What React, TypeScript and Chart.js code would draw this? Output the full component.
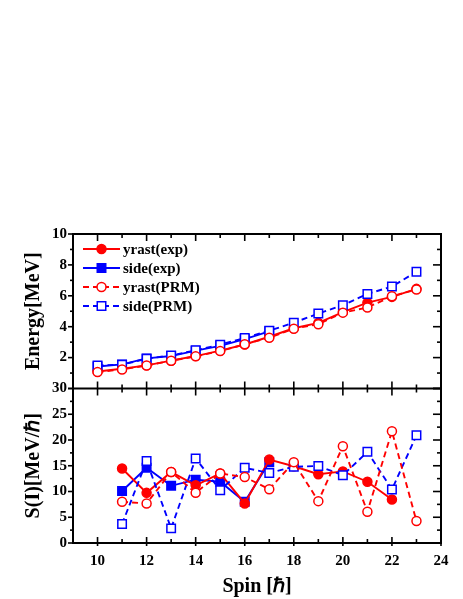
import React, { useEffect, useRef } from 'react';
import { Chart, registerables } from 'chart.js';

Chart.register(...registerables);

// ---------- data ----------
const spinsE = [10, 11, 12, 13, 14, 15, 16, 17, 18, 19, 20, 21, 22, 23];
const yrastExpE = [1.1, 1.28, 1.5, 1.8, 2.1, 2.45, 2.85, 3.35, 3.9, 4.25, 4.95, 5.56, 5.93, 6.45];
const sideExpSpins = [10, 11, 12, 13, 14, 15, 16, 17];
const sideExpE = [1.42, 1.56, 1.95, 2.1, 2.45, 2.76, 3.2, 3.7];
const yrastPrmE = [1.06, 1.23, 1.49, 1.8, 2.08, 2.42, 2.86, 3.29, 3.87, 4.16, 4.91, 5.24, 5.97, 6.41];
const sidePrmE = [1.49, 1.54, 1.93, 2.14, 2.47, 2.84, 3.27, 3.74, 4.26, 4.85, 5.39, 6.12, 6.6, 7.55];

const spinsS = [11, 12, 13, 14, 15, 16, 17, 18, 19, 20, 21, 22, 23];
const yrastExpSpinsS = [11, 12, 13, 14, 15, 16, 17, 18, 19, 20, 21, 22];
const yrastExpS = [14.46, 9.74, 13.8, 11.2, 13.5, 7.68, 16.2, 14.9, 13.35, 13.9, 11.9, 8.45];
const sideExpSpinsS = [11, 12, 13, 14, 15, 16, 17];
const sideExpS = [10.1, 14.6, 11.1, 12.3, 11.9, 8.0, 15.7];
const yrastPrmS = [8.0, 7.68, 13.8, 9.74, 13.5, 12.8, 10.45, 15.7, 8.13, 18.8, 6.06, 21.7, 4.26];
const sidePrmS = [3.68, 15.9, 2.84, 16.4, 10.26, 14.6, 13.6, 14.8, 14.96, 13.16, 17.7, 10.4, 20.9];

const xTicks = [10, 12, 14, 16, 18, 20, 22, 24];
const energyTicks = [0, 2, 4, 6, 8, 10];
const sTicks = [0, 5, 10, 15, 20, 25, 30];

const labels = ['yrast(exp)', 'side(exp)', 'yrast(PRM)', 'side(PRM)'];

// ---------- styles ----------
const RED = '#ff0000';
const BLUE = '#0000ff';
const FONT = "'Liberation Serif', 'Times New Roman', serif";
const DASH = [6, 4];

const zip = (xs: number[], ys: number[]) => ys.map((y, i) => ({ x: xs[i], y }));

function styleFor(idx: number) {
  const red = idx === 0 || idx === 2;
  const filled = idx < 2;
  const color = red ? RED : BLUE;
  return {
    borderColor: color,
    backgroundColor: filled ? color : '#ffffff',
    pointBorderColor: color,
    pointBackgroundColor: filled ? color : '#ffffff',
    pointStyle: red ? 'circle' : 'rect',
    pointRadius: red ? 4.5 : 6,
    pointBorderWidth: 1.5,
    borderWidth: 1.9,
    borderDash: filled ? [] : DASH,
    order: filled ? 1 : 0,
    tension: 0,
    fill: false,
  };
}

function minorsOf(ticks: number[]) {
  const out: number[] = [];
  for (let i = 0; i < ticks.length - 1; i++) out.push((ticks[i] + ticks[i + 1]) / 2);
  return out;
}

const framePlugin = {
  id: 'framePlugin',
  afterDatasetsDraw(chart: any) {
    const { ctx, chartArea: ca, scales } = chart;
    const x = scales.x;
    const yE = scales.yE;
    const yS = scales.yS;
    const mid = yE.bottom;
    ctx.save();
    ctx.strokeStyle = '#000';
    ctx.lineWidth = 2;
    ctx.strokeRect(ca.left, ca.top, ca.right - ca.left, ca.bottom - ca.top);
    ctx.beginPath();
    ctx.moveTo(ca.left, mid);
    ctx.lineTo(ca.right, mid);
    ctx.stroke();

    ctx.lineWidth = 1.6;
    const seg = (x1: number, y1: number, x2: number, y2: number) => {
      ctx.beginPath();
      ctx.moveTo(x1, y1);
      ctx.lineTo(x2, y2);
      ctx.stroke();
    };
    const xMin = minorsOf(xTicks).filter((v) => v > x.min && v < x.max);
    const drawX = (v: number, major: boolean) => {
      const px = x.getPixelForValue(v);
      const L = major ? 7 : 4;
      seg(px, ca.top, px, ca.top + L);
      seg(px, mid - L, px, mid + L);
      seg(px, ca.bottom - (major ? 6 : 4), px, ca.bottom + (major ? 3 : 1));
    };
    xTicks.forEach((v) => drawX(v, true));
    xMin.forEach((v) => drawX(v, false));

    const drawY = (scale: any, v: number, major: boolean) => {
      const py = scale.getPixelForValue(v);
      seg(ca.left - (major ? 5 : 3), py, ca.left, py);
      seg(ca.right - (major ? 8 : 4), py, ca.right, py);
    };
    energyTicks.forEach((v) => drawY(yE, v, true));
    minorsOf(energyTicks).forEach((v) => drawY(yE, v, false));
    sTicks.forEach((v) => drawY(yS, v, true));
    minorsOf(sTicks).forEach((v) => drawY(yS, v, false));
    ctx.restore();
  },
};

const legendPlugin = {
  id: 'legendPlugin',
  afterDraw(chart: any) {
    const { ctx, chartArea: ca } = chart;
    ctx.save();
    const x0 = ca.left + 10;
    const lineLen = 37;
    chart.data.datasets.slice(0, 4).forEach((ds: any, i: number) => {
      const cy = ca.top + 15 + i * 19;
      ctx.strokeStyle = ds.borderColor;
      ctx.lineWidth = ds.borderWidth;
      ctx.setLineDash(ds.borderDash || []);
      ctx.beginPath();
      ctx.moveTo(x0, cy);
      ctx.lineTo(x0 + lineLen, cy);
      ctx.stroke();
      ctx.setLineDash([]);
      const cx = x0 + lineLen / 2;
      ctx.fillStyle = ds.pointBackgroundColor;
      ctx.lineWidth = ds.pointBorderWidth;
      ctx.beginPath();
      if (ds.pointStyle === 'circle') {
        ctx.arc(cx, cy, ds.pointRadius, 0, Math.PI * 2);
      } else {
        const s = ds.pointRadius * Math.SQRT1_2;
        ctx.rect(cx - s, cy - s, 2 * s, 2 * s);
      }
      ctx.fill();
      ctx.stroke();
      ctx.fillStyle = '#000';
      ctx.font = `bold 15px ${FONT}`;
      ctx.textAlign = 'left';
      ctx.textBaseline = 'middle';
      ctx.fillText(ds.label, x0 + lineLen + 3, cy + 1);
    });
    ctx.restore();
  },
};

export default function App() {
  const ref = useRef<HTMLCanvasElement | null>(null);
  useEffect(() => {
    if (!ref.current) return;
    const datasets: any[] = [
      { label: labels[0], data: zip(spinsE, yrastExpE), yAxisID: 'yE', ...styleFor(0) },
      { label: labels[1], data: zip(sideExpSpins, sideExpE), yAxisID: 'yE', ...styleFor(1) },
      { label: labels[2], data: zip(spinsE, yrastPrmE), yAxisID: 'yE', ...styleFor(2) },
      { label: labels[3], data: zip(spinsE, sidePrmE), yAxisID: 'yE', ...styleFor(3) },
      { label: labels[0] + ' S', data: zip(yrastExpSpinsS, yrastExpS), yAxisID: 'yS', ...styleFor(0) },
      { label: labels[1] + ' S', data: zip(sideExpSpinsS, sideExpS), yAxisID: 'yS', ...styleFor(1) },
      { label: labels[2] + ' S', data: zip(spinsS, yrastPrmS), yAxisID: 'yS', ...styleFor(2) },
      { label: labels[3] + ' S', data: zip(spinsS, sidePrmS), yAxisID: 'yS', ...styleFor(3) },
    ];
    const tickFont = { family: FONT, size: 15, weight: 'bold' as const };
    const titleFont = { family: FONT, size: 20, weight: 'bold' as const };
    const yFit = (s: any) => {
      s.width = 73;
      s.paddingTop = 0;
      s.paddingBottom = 0;
    };
    const chart = new Chart(ref.current, {
      type: 'line',
      data: { datasets },
      options: {
        responsive: false,
        animation: false,
        layout: { padding: { top: 234, right: 22, left: 0, bottom: 0 } },
        plugins: { legend: { display: false }, tooltip: { enabled: false } },
        scales: {
          x: {
            type: 'linear',
            min: 9,
            max: 24,
            grid: { display: false, drawTicks: false },
            border: { display: false },
            afterBuildTicks: (s: any) => {
              s.ticks = xTicks.map((v) => ({ value: v }));
            },
            afterFit: (s: any) => {
              s.height = 56;
              s.paddingLeft = 0;
              s.paddingRight = 0;
            },
            ticks: { font: tickFont, color: '#000', padding: 9, maxRotation: 0, autoSkip: false },
            title: { display: true, text: 'Spin [ℏ]', font: titleFont, color: '#000', padding: { top: 4, bottom: 0 } },
          },
          yS: {
            type: 'linear',
            position: 'left',
            stack: 'v',
            stackWeight: 1,
            min: 0,
            max: 30,
            grid: { display: false, drawTicks: false },
            border: { display: false },
            afterBuildTicks: (s: any) => {
              s.ticks = sTicks.map((v) => ({ value: v }));
            },
            afterFit: yFit,
            ticks: { font: tickFont, color: '#000', padding: 6, autoSkip: false },
            title: { display: true, text: 'S(I)[MeV/ℏ]', font: titleFont, color: '#000', padding: { top: 22, bottom: 0 } },
          },
          yE: {
            type: 'linear',
            position: 'left',
            stack: 'v',
            stackWeight: 1,
            min: 0,
            max: 10,
            grid: { display: false, drawTicks: false },
            border: { display: false },
            afterBuildTicks: (s: any) => {
              s.ticks = energyTicks.map((v) => ({ value: v }));
            },
            afterFit: yFit,
            ticks: {
              font: tickFont,
              color: '#000',
              padding: 6,
              autoSkip: false,
              callback: (v: any) => (v === 0 ? '' : String(v)),
            },
            title: { display: true, text: 'Energy[MeV]', font: titleFont, color: '#000', padding: { top: 22, bottom: 0 } },
          },
        },
      } as any,
      plugins: [framePlugin, legendPlugin],
    });
    return () => chart.destroy();
  }, []);
  return (
    <div style={{ position: 'fixed', left: 0, top: 0, width: 463, height: 599, background: '#fff' }}>
      <canvas ref={ref} width={463} height={599} style={{ display: 'block' }} />
    </div>
  );
}
